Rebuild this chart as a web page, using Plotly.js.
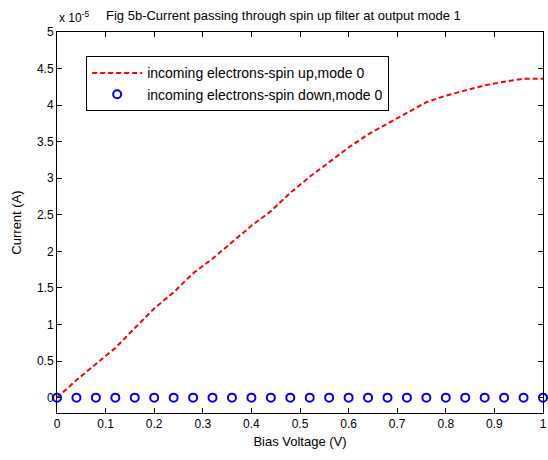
<!DOCTYPE html>
<html>
<head>
<meta charset="utf-8">
<script src="https://cdn.plot.ly/plotly-3.0.1.min.js"></script>
<style>html,body{margin:0;padding:0;background:#fff;}#chart{width:548px;height:460px;}</style>
</head>
<body>
<div id="chart"></div>
<script>
// Bias voltage (V)
const biasVoltage = [0,0.04,0.08,0.12,0.16,0.20,0.24,0.28,0.32,0.36,0.40,0.44,0.48,0.52,0.56,0.60,0.64,0.68,0.72,0.76,0.80,0.84,0.88,0.92,0.96,1.00];
// Current in units of 1e-5 A
const spinUpCurrent = [0,0.24,0.46,0.68,0.95,1.22,1.44,1.70,1.90,2.12,2.35,2.55,2.80,3.02,3.22,3.42,3.60,3.75,3.90,4.04,4.13,4.20,4.27,4.32,4.36,4.36];
const spinDownCurrent = [0,0,0,0,0,0,0,0,0,0,0,0,0,0,0,0,0,0,0,0,0,0,0,0,0,0];
const seriesNames = ['incoming electrons-spin up,mode 0','incoming electrons-spin down,mode 0'];
const xTicks = [0,0.1,0.2,0.3,0.4,0.5,0.6,0.7,0.8,0.9,1];
const yTicks = [0,0.5,1,1.5,2,2.5,3,3.5,4,4.5,5];

const fam = 'Liberation Sans, Arial, sans-serif';
const tickFont = {family: fam, size: 12, color: '#000'};
const titleFont = {family: fam, size: 13, color: '#000'};
const legendFont = {family: fam, size: 14, color: '#000'};

const traces = [
  {x: biasVoltage, y: spinUpCurrent, name: seriesNames[0], type: 'scatter', mode: 'lines',
   line: {color: '#ff0000', width: 2, dash: '5px,3px'}},
  {x: biasVoltage, y: spinDownCurrent, name: seriesNames[1], type: 'scatter', mode: 'markers',
   marker: {symbol: 'circle-open', size: 8, color: '#0000ff', line: {width: 2, color: '#0000ff'}},
   cliponaxis: false}
];

const axisCommon = {
  showgrid: false, zeroline: false, showline: true, linecolor: '#000', linewidth: 1,
  mirror: 'ticks', ticks: 'inside', ticklen: 5, tickcolor: '#000', tickfont: tickFont
};

const layout = {
  width: 548, height: 460,
  paper_bgcolor: '#fff', plot_bgcolor: '#fff',
  margin: {l: 57, r: 5, t: 32, b: 47},
  font: tickFont,
  showlegend: true,
  legend: {x: 0.06, y: 0.936, xanchor: 'left', yanchor: 'top', bgcolor: '#fff',
           bordercolor: '#000', borderwidth: 1, font: legendFont, tracegroupgap: 0, itemwidth: 50},
  xaxis: Object.assign({}, axisCommon, {range: [0, 1], tickvals: xTicks, ticktext: xTicks.map(String),
          title: {text: 'Bias Voltage (V)', font: titleFont, standoff: 6}}),
  yaxis: Object.assign({}, axisCommon, {range: [-0.21, 5], tickvals: yTicks, ticktext: yTicks.map(String),
          title: {text: 'Current (A)', font: titleFont, standoff: 12}}),
  annotations: [
    {text: 'Fig 5b-Current passing through spin up filter at output mode 1', xref: 'paper', yref: 'paper',
     x: 0.467, y: 1, yshift: 17, xanchor: 'center', yanchor: 'middle', showarrow: false, font: titleFont},
    {text: 'x 10<sup>-5</sup>', xref: 'paper', yref: 'paper', x: 0, y: 1, yshift: 15,
     xanchor: 'left', yanchor: 'middle', showarrow: false, font: tickFont}
  ]
};

Plotly.newPlot('chart', traces, layout, {displayModeBar: false, staticPlot: true});
</script>
</body>
</html>
